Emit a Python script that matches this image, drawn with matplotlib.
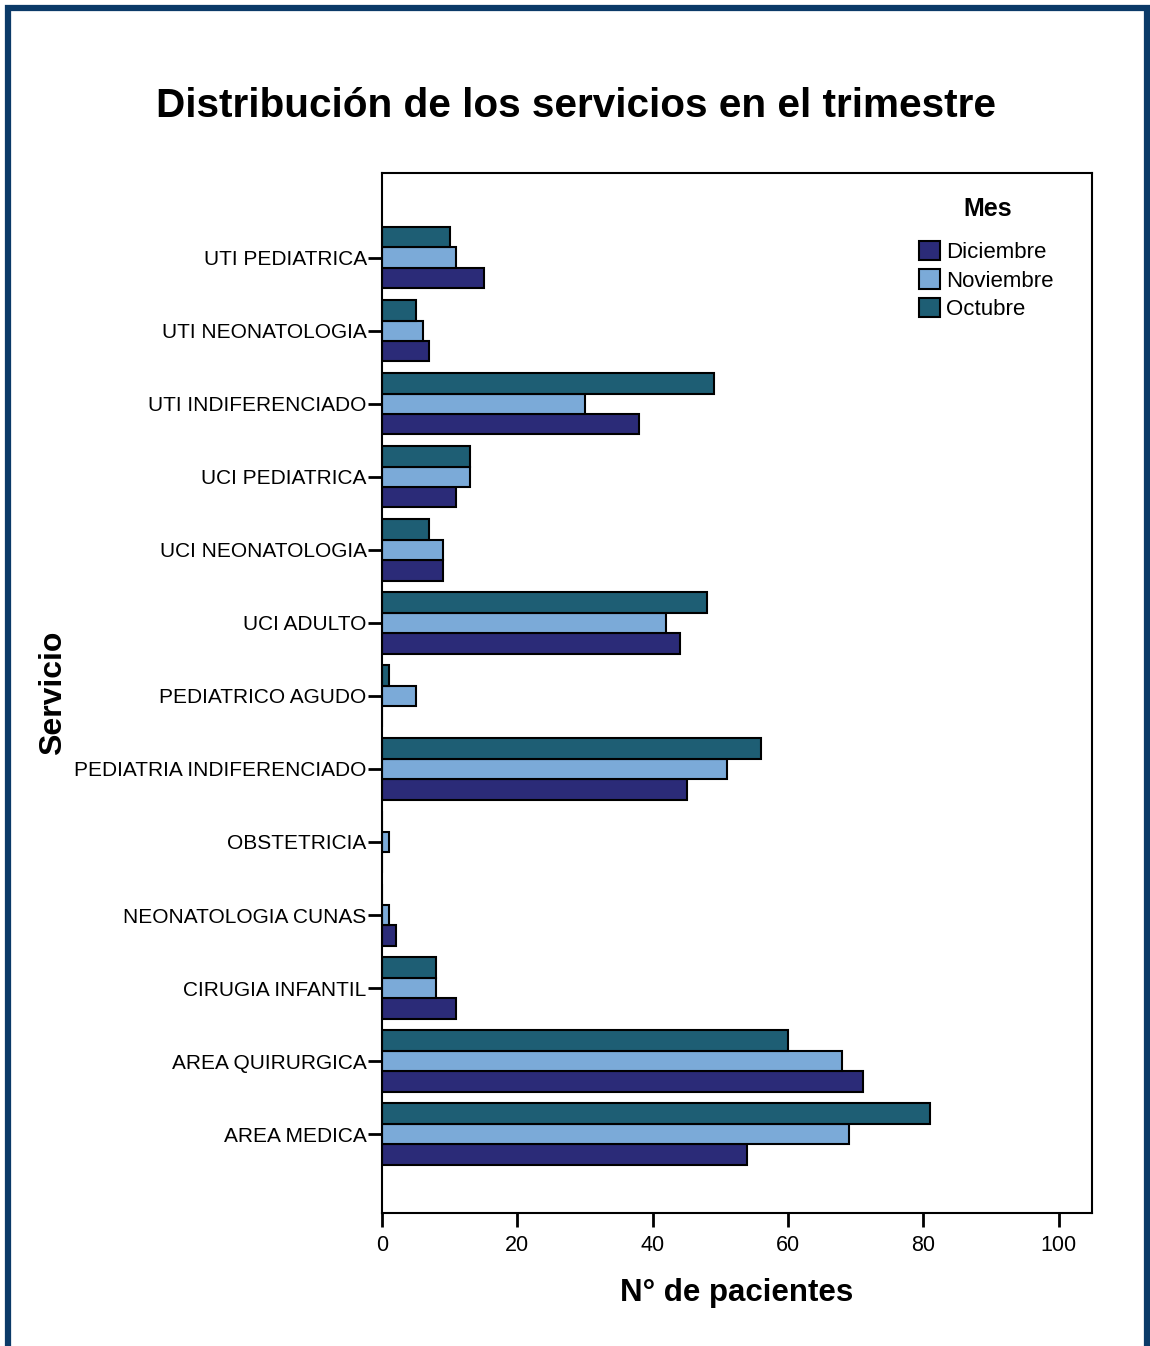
import numpy as np
import matplotlib.pyplot as plt
from matplotlib.patches import Rectangle

plt.rcParams['font.family'] = ['Liberation Sans', 'DejaVu Sans']

# Services, bottom to top as drawn on the y axis
servicios = ['AREA MEDICA', 'AREA QUIRURGICA', 'CIRUGIA INFANTIL', 'NEONATOLOGIA CUNAS',
             'OBSTETRICIA', 'PEDIATRIA INDIFERENCIADO', 'PEDIATRICO AGUDO', 'UCI ADULTO',
             'UCI NEONATOLOGIA', 'UCI PEDIATRICA', 'UTI INDIFERENCIADO', 'UTI NEONATOLOGIA',
             'UTI PEDIATRICA']

diciembre = [54, 71, 11, 2, 0, 45, 0, 44, 9, 11, 38, 7, 15]
noviembre = [69, 68, 8, 1, 1, 51, 5, 42, 9, 13, 30, 6, 11]
octubre = [81, 60, 8, 0, 0, 56, 1, 48, 7, 13, 49, 5, 10]

meses = ['Diciembre', 'Noviembre', 'Octubre']
colores = ['#2B2B78', '#7BAAD8', '#1E5E74']

W, H = 1150, 1346
fig = plt.figure(figsize=(W / 100, H / 100), dpi=100)
ax = fig.add_axes([382 / W, 1 - 1213 / H, 710 / W, 1040 / H])

y = np.arange(len(servicios))
h = 0.28
for serie, off, color, mes in zip([diciembre, noviembre, octubre], [-h, 0, h], colores, meses):
    ax.barh(y + off, serie, height=h, color=color, edgecolor='black', linewidth=1.5, label=mes)

ax.set_xlim(0, 104.9)
ax.set_ylim(-1.08, 13.16)
ax.set_xticks([0, 20, 40, 60, 80, 100])
ax.set_yticks(y)
ax.set_yticklabels(servicios, fontsize=15)
ax.tick_params(axis='x', labelsize=15.5, length=10, width=2, pad=6)
ax.tick_params(axis='y', length=10, width=2, pad=1)
for s in ax.spines.values():
    s.set_linewidth(1.5)

# titles and axis names
fig.text(576 / W, 1 - 106 / H, 'Distribución de los servicios en el trimestre',
         ha='center', va='center', fontsize=29.2, fontweight='bold')
fig.text(737 / W, 1 - 1293 / H, 'N° de pacientes', ha='center', va='center',
         fontsize=22.5, fontweight='bold')
fig.text(53 / W, 1 - 693 / H, 'Servicio', ha='center', va='center', rotation=90,
         fontsize=23, fontweight='bold')

# legend: Diciembre, Noviembre, Octubre from top
ax.text((988 - 382) / 710, (1213 - 209) / 1040, 'Mes', transform=ax.transAxes,
        ha='center', va='center', fontsize=18, fontweight='bold')
leg = ax.legend(loc='upper left', bbox_to_anchor=((919 - 382) / 710, (1213 - 241) / 1040),
                frameon=False, fontsize=16, handlelength=0.95, handleheight=0.95,
                handletextpad=0.25, labelspacing=0.28, borderaxespad=0, borderpad=0)

# dark frame around the whole figure
fig.patches.append(Rectangle((8 / W, -0.05), 1139 / W, 1.05 - 8 / H,
                             transform=fig.transFigure, fill=False,
                             edgecolor='#0B3A68', linewidth=4.5))

fig.savefig('out.png', dpi=100)
